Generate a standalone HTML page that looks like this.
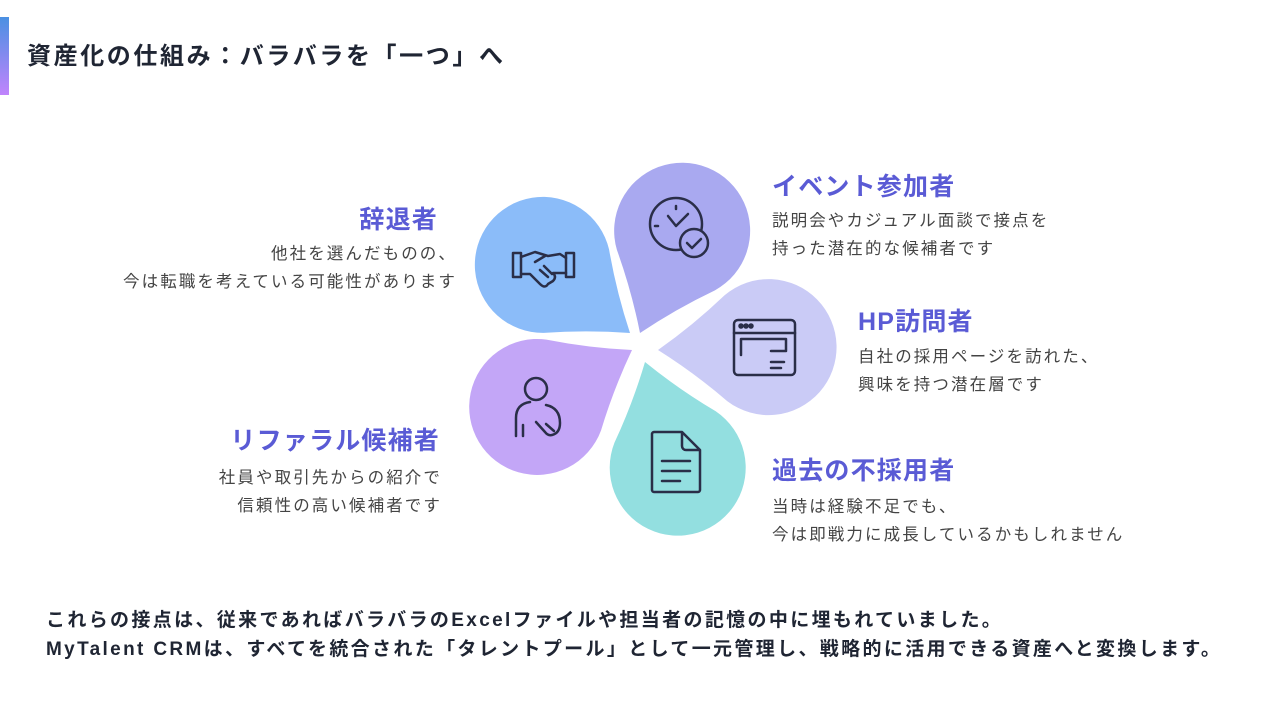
<!DOCTYPE html>
<html><head><meta charset="utf-8"><style>
body{margin:0;width:1280px;height:720px;background:#fff;position:relative;overflow:hidden;font-family:"Liberation Sans","Noto Sans CJK JP",sans-serif;}
.t{position:absolute;white-space:nowrap;}
.h{font-size:25px;font-weight:bold;color:#5a5bd5;letter-spacing:1.2px;}
.b{font-size:16.5px;color:#444;line-height:28px;letter-spacing:2.1px;}
.r{text-align:right;}
</style></head><body>
<div style="position:absolute;left:0;top:17px;width:9px;height:78px;background:linear-gradient(#4a90e2,#c084fc);"></div>
<div class="t" style="left:27px;top:36px;font-size:24px;font-weight:bold;color:#1f2533;letter-spacing:2.6px;">資産化の仕組み：バラバラを「一つ」へ</div>

<svg width="1280" height="720" style="position:absolute;left:0;top:0">
<defs><path id="p" d="M0,0 Q36,-24 68,-53 A68,68 0 1,1 68,53 Q36,24 0,0Z"/></defs>
<use href="#p" transform="translate(630,333) rotate(218)" fill="#8bbcf9"/>
<use href="#p" transform="translate(640,333) rotate(-67.6)" fill="#a9a9f0"/>
<use href="#p" transform="translate(658,350) rotate(-1.5)" fill="#cacbf6"/>
<use href="#p" transform="translate(645,362) rotate(72.8)" fill="#93dfe0"/>
<use href="#p" transform="translate(632,350) rotate(149)" fill="#c3a6f7"/>
<g fill="none" stroke="#2a2e48" stroke-width="2.5" stroke-linecap="round" stroke-linejoin="round">
<rect x="513" y="253" width="8" height="24"/><rect x="566" y="253" width="8" height="24"/>
<path d="M521,257 L535,252 L548,256 L560,254 L566,258 M521,274 L530,274 L540,284 Q545,289 548,284 L553,281 Q557,277 553,273 L566,273 M535,262 L545,256 M540,270 L548,277 M544,266 L552,274"/>
<circle cx="676" cy="224" r="26"/><path d="M676,206 v3 M655,226 h3 M668,216 L676,226 L688,214"/>
<circle cx="694" cy="243" r="14" fill="#a9a9f0"/><path d="M687,243 l5,5 l9,-9"/>
<rect x="734" y="320" width="61" height="55" rx="4"/><path d="M734,333 h61 M741,355 v-16 h45 v12 h-15 M771,362 h13 M771,368 h10"/>
<circle cx="741" cy="326" r="1.5" fill="#2a2e48"/><circle cx="746" cy="326" r="1.5" fill="#2a2e48"/><circle cx="751" cy="326" r="1.5" fill="#2a2e48"/>
<path d="M654,432 h28 l18,18 v40 a2,2 0 0 1 -2,2 h-44 a2,2 0 0 1 -2,-2 v-56 a2,2 0 0 1 2,-2Z M682,432 v14 a4,4 0 0 0 4,4 h14 M662,461 h28 M662,471 h28 M662,481 h18"/>
<circle cx="536" cy="389" r="11"/><path d="M516,436 v-18 q0,-14 14,-16 M523,425 v11 M546,405 q14,3 14,18 q0,10 -8,12 q-4,1 -7,-3 l-9,-10 M546,424 l8,7"/>
</g>
</svg>

<div class="t h r" style="right:842px;top:200px;">辞退者</div>
<div class="t b r" style="right:823px;top:240px;">他社を選んだものの、<br>今は転職を考えている可能性があります</div>
<div class="t h" style="left:772px;top:167px;">イベント参加者</div>
<div class="t b" style="left:772px;top:207px;">説明会やカジュアル面談で接点を<br>持った潜在的な候補者です</div>
<div class="t h" style="left:858px;top:302px;">HP訪問者</div>
<div class="t b" style="left:858px;top:343px;">自社の採用ページを訪れた、<br>興味を持つ潜在層です</div>
<div class="t h r" style="right:840px;top:421px;">リファラル候補者</div>
<div class="t b r" style="right:838px;top:464px;">社員や取引先からの紹介で<br>信頼性の高い候補者です</div>
<div class="t h" style="left:772px;top:451px;">過去の不採用者</div>
<div class="t b" style="left:772px;top:493px;">当時は経験不足でも、<br>今は即戦力に成長しているかもしれません</div>

<div class="t" style="left:46px;top:606px;font-size:19px;font-weight:bold;color:#1f2533;line-height:29px;letter-spacing:2.35px;">これらの接点は、従来であればバラバラのExcelファイルや担当者の記憶の中に埋もれていました。<br>MyTalent CRMは、すべてを統合された「タレントプール」として一元管理し、戦略的に活用できる資産へと変換します。</div>
</body></html>
